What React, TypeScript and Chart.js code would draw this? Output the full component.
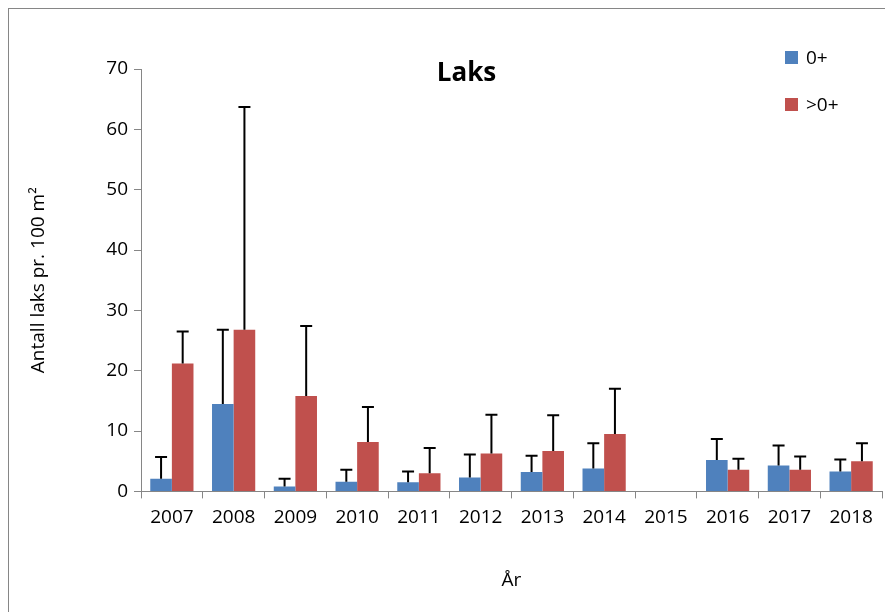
import React, { useEffect, useRef } from "react";
import Chart from "chart.js/auto";

const years = ["2007","2008","2009","2010","2011","2012","2013","2014","2015","2016","2017","2018"];
const young = [2.1,14.5,0.8,1.6,1.5,2.3,3.2,3.8,0,5.2,4.3,3.3];
const youngErr = [5.7,26.8,2.1,3.6,3.3,6.1,5.9,8.0,0,8.7,7.6,5.3];
const older = [21.2,26.8,15.8,8.2,3.0,6.3,6.7,9.5,0,3.6,3.6,5.0];
const olderErr = [26.5,63.7,27.4,14.0,7.2,12.7,12.6,17.0,0,5.4,5.8,8.0];
const errs = [youngErr, olderErr];

const FONT = "'Open Sans', 'Liberation Sans', sans-serif";

const errPlugin = {
  id: "err",
  afterDatasetsDraw(chart: any) {
    const ctx = chart.ctx;
    const y = chart.scales.y;
    ctx.save();
    ctx.strokeStyle = "#000";
    ctx.lineWidth = 2;
    [0, 1].forEach((i) => {
      chart.getDatasetMeta(i).data.forEach((bar: any, j: number) => {
        const v = chart.data.datasets[i].data[j];
        const e = errs[i][j];
        if (!e || e <= v) return;
        const x = bar.x;
        const yt = y.getPixelForValue(e);
        ctx.beginPath();
        ctx.moveTo(x, bar.y);
        ctx.lineTo(x, yt);
        ctx.moveTo(x - 6, yt);
        ctx.lineTo(x + 6, yt);
        ctx.stroke();
      });
    });
    ctx.restore();
  },
};

export default function App() {
  const ref = useRef<HTMLCanvasElement>(null);
  useEffect(() => {
    const chart = new Chart(ref.current!, {
      type: "bar",
      data: {
        labels: years,
        datasets: [
          { label: "0+", data: young, backgroundColor: "#4F81BD" },
          { label: ">0+", data: older, backgroundColor: "#C0504D" },
        ],
      },
      options: {
        animation: false,
        responsive: false,
        layout: { padding: { left: 14, top: 60, right: 12, bottom: 16 } },
        datasets: { bar: { categoryPercentage: 0.7, barPercentage: 1 } },
        plugins: {
          legend: { display: false },
          tooltip: { enabled: false },
          title: { display: false },
        },
        scales: {
          x: {
            offset: true,
            grid: { display: true, drawOnChartArea: false, offset: true, tickLength: 7, color: "#868686" },
            border: { color: "#868686" },
            ticks: { color: "#000", font: { family: FONT, size: 19 }, padding: 8 },
            title: { display: true, text: "År", color: "#000", font: { family: FONT, size: 19 }, padding: { top: 32 } },
          },
          y: {
            min: 0, max: 70,
            afterFit: (s: any) => { s.width = 118; },
            grid: { display: true, drawOnChartArea: false, tickLength: 7, color: "#868686" },
            border: { color: "#868686" },
            ticks: { stepSize: 10, color: "#000", font: { family: FONT, size: 19 }, padding: 6 },
            title: { display: true, text: "Antall laks pr. 100 m²", color: "#000", font: { family: FONT, size: 19 }, padding: { bottom: 8 } },
          },
        },
      },
      plugins: [errPlugin],
    });
    return () => chart.destroy();
  }, []);
  const lbl: React.CSSProperties = { position: "absolute", fontFamily: FONT, fontSize: 19, display: "flex", alignItems: "center", gap: 8 };
  const sq = (c: string): React.CSSProperties => ({ width: 13, height: 13, background: c, display: "inline-block" });
  return (
    <div style={{ position: "relative", width: 890, height: 603, borderLeft: "1px solid #868686", borderTop: "1px solid #868686", borderBottom: "1px solid #868686", overflow: "hidden", background: "#fff" }}>
      <canvas ref={ref} width={885} height={603} />
      <div style={{ position: "absolute", left: 0, top: 44, width: 915, textAlign: "center", fontFamily: FONT, fontSize: 26, fontWeight: "bold" }}>Laks</div>
      <div style={{ ...lbl, left: 776, top: 35 }}><span style={sq("#4F81BD")} />0+</div>
      <div style={{ ...lbl, left: 776, top: 82 }}><span style={sq("#C0504D")} />&gt;0+</div>
    </div>
  );
}
